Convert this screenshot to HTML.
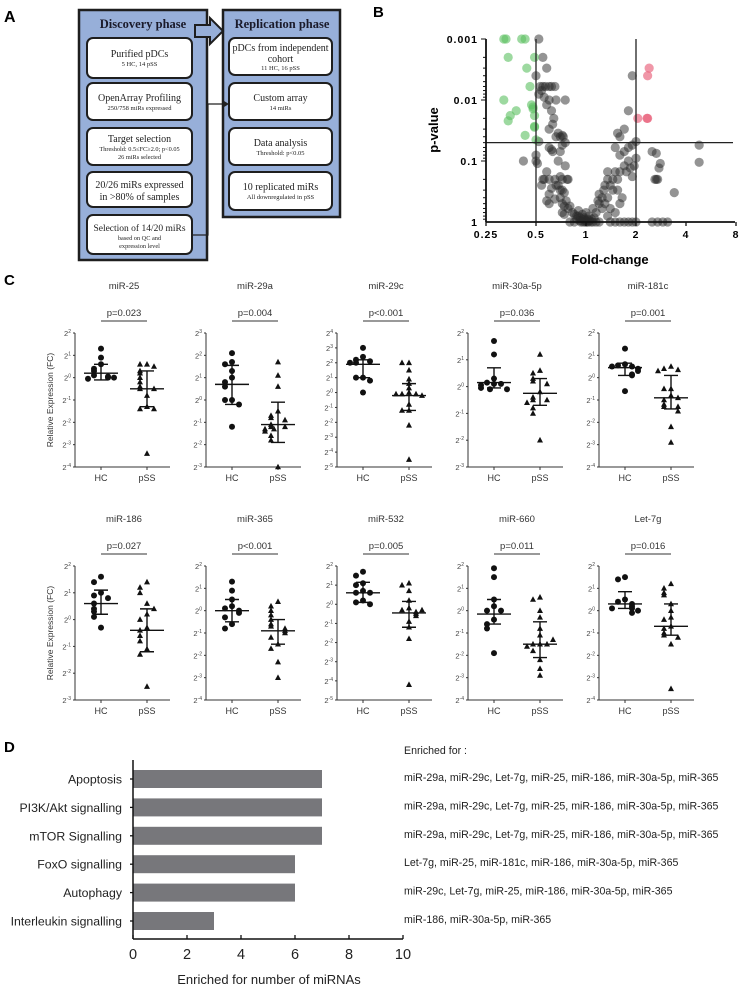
<!DOCTYPE html>
<html><head><meta charset="utf-8"><style>
html,body{margin:0;padding:0;background:#fff;}
svg{display:block;font-family:"Liberation Sans",sans-serif;}
.ser{font-family:"Liberation Serif",serif;}
</style></head><body>
<svg id="fig" width="740" height="990" viewBox="0 0 740 990" xmlns="http://www.w3.org/2000/svg">
<g>
<text x="4" y="22" font-size="16" font-weight="bold">A</text>
<rect x="79" y="10" width="128" height="250" fill="#97afd9" stroke="#1e1e1e" stroke-width="2.5"/>
<rect x="223" y="10" width="117" height="207" fill="#97afd9" stroke="#1e1e1e" stroke-width="2.5"/>
<text class="ser" x="143" y="28" font-size="12.5" font-weight="bold" text-anchor="middle" fill="#1a1a2a">Discovery phase</text>
<text class="ser" x="282" y="28" font-size="12.5" font-weight="bold" text-anchor="middle" fill="#1a1a2a">Replication phase</text>
<polygon points="195,25 210,25 210,18 223,31 210,44 210,37 195,37" fill="#97afd9" stroke="#1e1e1e" stroke-width="2"/>
<g class="ser" fill="#222" text-anchor="middle">
<rect x="87" y="38" width="105" height="40" rx="6" fill="#fff" stroke="#1e1e1e" stroke-width="2"/>
<text x="139.5" y="57" font-size="10">Purified pDCs</text>
<text x="139.5" y="66" font-size="6.5">5 HC, 14 pSS</text>
<rect x="87" y="83" width="105" height="37" rx="6" fill="#fff" stroke="#1e1e1e" stroke-width="2"/>
<text x="139.5" y="101" font-size="10">OpenArray Profiling</text>
<text x="139.5" y="110" font-size="6.5">250/758 miRs expressed</text>
<rect x="87" y="128" width="105" height="37" rx="6" fill="#fff" stroke="#1e1e1e" stroke-width="2"/>
<text x="139.5" y="142" font-size="10">Target selection</text>
<text x="139.5" y="151" font-size="6.3">Threshold: 0.5≤FC≥2.0; p&lt;0.05</text>
<text x="139.5" y="159" font-size="6.3">26 miRs selected</text>
<rect x="87" y="172" width="105" height="35" rx="6" fill="#fff" stroke="#1e1e1e" stroke-width="2"/>
<text x="139.5" y="188" font-size="10">20/26 miRs expressed</text>
<text x="139.5" y="200" font-size="10">in &gt;80% of samples</text>
<rect x="87" y="215" width="105" height="39" rx="6" fill="#fff" stroke="#1e1e1e" stroke-width="2"/>
<text x="139.5" y="231" font-size="9.5">Selection of 14/20 miRs</text>
<text x="139.5" y="240" font-size="6.3">based on QC and</text>
<text x="139.5" y="248" font-size="6.3">expression level</text>
</g>
<g class="ser" fill="#222" text-anchor="middle">
<rect x="229" y="38" width="103" height="37" rx="6" fill="#fff" stroke="#1e1e1e" stroke-width="2"/>
<text x="280.5" y="51" font-size="10">pDCs from independent</text>
<text x="280.5" y="62" font-size="10">cohort</text>
<text x="280.5" y="70" font-size="6.5">11 HC, 16 pSS</text>
<rect x="229" y="83" width="103" height="37" rx="6" fill="#fff" stroke="#1e1e1e" stroke-width="2"/>
<text x="280.5" y="101" font-size="10">Custom array</text>
<text x="280.5" y="110" font-size="6.5">14 miRs</text>
<rect x="229" y="128" width="103" height="37" rx="6" fill="#fff" stroke="#1e1e1e" stroke-width="2"/>
<text x="280.5" y="146" font-size="10">Data analysis</text>
<text x="280.5" y="155" font-size="6.5">Threshold: p&lt;0.05</text>
<rect x="229" y="172" width="103" height="38" rx="6" fill="#fff" stroke="#1e1e1e" stroke-width="2"/>
<text x="280.5" y="190" font-size="10">10 replicated miRs</text>
<text x="280.5" y="199" font-size="6.5">All downregulated in pSS</text>
</g>
<polyline points="192,235 208,235 208,104 226,104" fill="none" stroke="#222" stroke-width="1.2"/>
<polygon points="229,104 224,101 224,107" fill="#222"/>
</g>
<text x="373" y="17" font-size="15" font-weight="bold">B</text>
<text x="4" y="285" font-size="15" font-weight="bold">C</text>
<text x="4" y="752" font-size="15" font-weight="bold">D</text>
<g id="volcano"></g>
<g id="scatters"></g>
<g id="bars"></g>
</svg>
<script>
// ---------- Panel B data ----------
const greenFC = [0.32,0.33,0.41,0.43,0.34,0.49,0.44,0.46,0.32,0.38,0.35,0.34,0.47,0.48,0.49,0.49,0.49,0.43,0.5,0.48];
const greenP  = [0.001,0.001,0.001,0.001,0.002,0.002,0.003,0.006,0.01,0.015,0.018,0.022,0.012,0.014,0.018,0.027,0.028,0.038,0.045,0.013];
const redFC = [2.4,2.35,2.05,2.35,2.33];
const redP  = [0.003,0.004,0.02,0.02,0.02];
const greyFC = [0.52,0.55,0.58,0.5,0.53,0.55,0.57,0.6,0.62,0.65,0.54,0.52,0.56,0.6,0.66,0.75,0.58,0.62,0.64,0.63,0.6,0.68,0.7,0.72,0.73,0.66,0.52,0.6,0.62,0.63,0.7,0.72,0.75,0.5,0.5,0.51,0.42,0.68,0.75,0.55,0.58,0.6,0.65,0.7,0.72,0.77,0.54,0.56,0.62,0.68,0.7,0.72,0.74,0.78,0.66,0.6,0.58,0.6,0.65,0.7,0.72,0.74,0.76,0.78,0.8,0.72,0.74,0.83,0.85,0.88,0.9,0.92,0.95,1.0,1.02,1.05,0.97,0.93,0.96,0.99,1.01,1.03,1.07,1.1,1.15,1.2,0.85,0.8,1.12,1.1,1.15,1.2,1.25,1.18,1.3,1.35,1.28,1.3,1.35,1.4,1.45,1.5,1.55,1.6,1.45,1.55,1.65,1.6,1.4,1.5,1.35,1.4,1.5,1.6,1.7,1.8,1.9,2.0,2.5,2.7,2.9,3.1,1.7,1.75,1.8,1.85,1.9,1.95,2.0,1.6,1.5,1.7,1.8,1.9,1.55,1.6,1.7,1.8,1.9,2.0,2.5,2.65,2.7,2.75,2.65,2.6,2.8,3.4,4.8,4.8,1.35,1.2,1.25,1.0,0.9,0.95,0.88,0.92,1.08,1.04,0.98];
const greyP  = [0.001,0.002,0.003,0.004,0.006,0.006,0.006,0.006,0.006,0.006,0.007,0.008,0.009,0.01,0.01,0.01,0.012,0.015,0.02,0.025,0.03,0.035,0.04,0.038,0.04,0.04,0.048,0.06,0.065,0.07,0.07,0.055,0.05,0.08,0.1,0.11,0.1,0.1,0.12,0.2,0.15,0.2,0.2,0.18,0.2,0.2,0.25,0.2,0.28,0.25,0.3,0.3,0.33,0.2,0.25,0.35,0.45,0.5,0.42,0.4,0.5,0.55,0.45,0.6,0.55,0.7,0.75,0.7,0.75,0.8,0.8,0.85,0.9,0.95,0.9,0.95,0.85,1,1,1,1,1,1,1,1,1,1,1,0.85,0.6,0.7,0.5,0.6,0.45,0.5,0.4,0.3,0.25,0.2,0.25,0.2,0.15,0.2,0.15,0.3,0.3,0.4,0.5,0.6,0.7,0.8,1,1,1,1,1,1,1,1,1,1,1,0.12,0.15,0.1,0.13,0.18,0.12,0.09,0.08,0.06,0.07,0.06,0.055,0.035,0.04,0.03,0.015,0.004,0.048,0.07,0.075,0.2,0.13,0.2,0.2,0.11,0.33,0.055,0.105,0.15,0.35,0.4,0.7,0.65,0.75,0.9,0.95,0.9,0.8,0.92];
const volXTicks = [0.25,0.5,1,2,4,8];
const volXLabels = ["0.25","0.5","1","2","4","8"];
const volYTicks = [0.001,0.01,0.1,1];
const volYLabels = ["0.001","0.01","0.1","1"];

// ---------- Panel C data (log2 relative expression) ----------
const cTitles = ["miR-25","miR-29a","miR-29c","miR-30a-5p","miR-181c","miR-186","miR-365","miR-532","miR-660","Let-7g"];
const cPvals = ["p=0.023","p=0.004","p<0.001","p=0.036","p=0.001","p=0.027","p<0.001","p=0.005","p=0.011","p=0.016"];
const cYMax = [2,3,4,2,2,2,2,2,2,2];
const cYMin = [-4,-3,-5,-3,-4,-3,-4,-5,-4,-4];
const hcVals = [
 [1.3,0.9,0.6,0.4,0.3,0.1,0.05,0,-0.05,0.0],
 [2.1,1.7,1.6,1.3,1.0,0.8,0.6,0.0,0.0,-0.2,-1.2],
 [3.0,2.4,2.2,2.0,2.1,2.0,1.0,1.0,0.8,0.0],
 [1.7,1.2,0.3,0.15,0.1,0.05,-0.05,-0.1,-0.1,0.1],
 [1.3,0.6,0.55,0.5,0.5,0.4,0.3,0.15,0.1,-0.6],
 [1.6,1.4,1.0,0.9,0.8,0.6,0.4,0.3,0.1,-0.3],
 [1.3,0.9,0.5,0.2,0.1,0.0,-0.1,-0.3,-0.6,-0.8],
 [1.7,1.5,1.1,1.0,0.7,0.6,0.6,0.2,0.1,0.0],
 [1.9,1.5,0.5,0.2,0.0,0.0,-0.4,-0.6,-0.8,-1.9],
 [1.5,1.4,0.5,0.4,0.3,0.2,0.1,0.1,-0.1,0.0]];
const pssVals = [
 [0.6,0.6,0.5,0.3,0.2,0,-0.2,-0.4,-0.5,-0.5,-0.8,-1.3,-1.4,-1.4,-3.4],
 [1.7,1.1,0.6,-0.5,-0.7,-0.8,-0.9,-1.1,-1.2,-1.2,-1.3,-1.4,-1.3,-1.6,-1.8,-3.0],
 [2.0,2.0,1.5,0.9,0.6,0.3,0.0,-0.1,-0.1,-0.1,-0.2,-0.8,-1.2,-1.2,-2.2,-4.5],
 [1.2,0.6,0.5,0.3,0.2,0.1,-0.2,-0.4,-0.5,-0.5,-0.6,-0.8,-1.0,-2.0],
 [0.5,0.4,0.35,0.3,-0.5,-0.5,-0.8,-1.0,-1.2,-1.3,-1.3,-1.5,-2.2,-2.9,-0.9],
 [1.4,1.2,1.0,0.6,0.2,0.0,-0.3,-0.4,-0.6,-0.8,-1.1,-1.3,-2.5,0.4],
 [0.4,0.2,0.0,-0.2,-0.4,-0.6,-0.7,-0.8,-0.9,-1.0,-1.2,-1.5,-1.7,-2.3,-3.0],
 [1.1,1.0,0.7,0.2,-0.2,-0.3,-0.4,-0.5,-0.6,-0.9,-1.2,-1.8,-4.2,-0.3],
 [0.6,0.5,0.0,-0.3,-0.8,-1.1,-1.5,-1.5,-1.5,-1.6,-1.8,-2.2,-2.6,-2.9,-1.3],
 [1.2,1.0,0.8,0.7,0.3,0.0,-0.3,-0.4,-0.7,-0.8,-1.0,-1.1,-1.2,-1.5,-3.5]];
const hcMid = [0.2,0.7,1.9,0.15,0.45,0.6,0.0,0.6,-0.15,0.3];
const hcHi  = [0.6,1.55,2.2,0.7,0.65,1.1,0.5,1.15,0.5,0.85];
const hcLo  = [-0.1,-0.2,1.0,-0.05,0.1,0.2,-0.5,0.1,-0.6,0.1];
const pssMid = [-0.5,-1.1,-0.2,-0.25,-0.9,-0.4,-0.9,-0.45,-1.5,-0.7];
const pssHi  = [0.3,-0.1,0.6,0.3,0.1,0.4,-0.4,0.15,-0.5,0.3];
const pssLo  = [-1.3,-1.9,-1.2,-0.7,-1.4,-1.2,-1.5,-1.2,-2.1,-1.1];

// ---------- Panel D data ----------
const dCats = ["Apoptosis","PI3K/Akt signalling","mTOR Signalling","FoxO signalling","Autophagy","Interleukin signalling"];
const dVals = [7,7,7,6,6,3];
const dMirs = ["miR-29a, miR-29c, Let-7g, miR-25, miR-186, miR-30a-5p, miR-365","miR-29a, miR-29c, Let-7g, miR-25, miR-186, miR-30a-5p, miR-365","miR-29a, miR-29c, Let-7g, miR-25, miR-186, miR-30a-5p, miR-365","Let-7g, miR-25, miR-181c, miR-186, miR-30a-5p, miR-365","miR-29c, Let-7g, miR-25, miR-186, miR-30a-5p, miR-365","miR-186, miR-30a-5p, miR-365"];
const dTicks = [0,2,4,6,8,10];

const NS="http://www.w3.org/2000/svg";
function mk(tag, attrs, parent){const e=document.createElementNS(NS,tag);for(const k in attrs)e.setAttribute(k,attrs[k]);parent.appendChild(e);return e;}

// ===== Volcano =====
(function(){
 const g=document.getElementById('volcano');
 const x=fc=>486+50*Math.log2(fc/0.25);
 const y=p=>39+61*(Math.log10(p)+3);
 let el;
 function dots(fcs,ps,col,op,name){
  for(let i=0;i<fcs.length;i++){
   el=mk('circle',{cx:x(fcs[i]),cy:y(ps[i]),r:4.6,fill:col,'fill-opacity':op},g);
   
   
  }
 }
 dots(greyFC,greyP,'#2a2a2a',0.5,'volcano-point');
 dots(greenFC,greenP,'#5cbf60',0.6,'volcano-point-down');
 dots(redFC,redP,'#e8607a',0.65,'volcano-point-up');
 el=mk('line',{x1:x(0.5),x2:x(0.5),y1:y(0.001),y2:y(1),stroke:'#222','stroke-width':1.3},g);
 
 
 el=mk('line',{x1:x(2),x2:x(2),y1:y(0.001),y2:y(1),stroke:'#222','stroke-width':1.3},g);
 
 
 el=mk('line',{x1:486,x2:733,y1:y(0.05),y2:y(0.05),stroke:'#222','stroke-width':1.3},g);
 
 
 el=mk('line',{x1:486,x2:735,y1:y(1),y2:y(1),stroke:'#111','stroke-width':1.8},g);
 
 
 el=mk('line',{x1:486,x2:486,y1:y(0.001),y2:y(1),stroke:'#111','stroke-width':1.8},g);
 
 
 for(let d=-3;d<0;d++){for(let m=1;m<10;m++){
  el=mk('line',{x1:m==1?481:483,x2:486,y1:y(m*Math.pow(10,d)),y2:y(m*Math.pow(10,d)),stroke:'#111','stroke-width':1},g);
  
  
 }}
 for(let i=0;i<volYTicks.length;i++){
  el=mk('text',{x:478,y:y(volYTicks[i])+4,'font-size':10.5,'font-weight':'bold','text-anchor':'end','letter-spacing':'1'},g);
  el.textContent=volYLabels[i];
  
  
 }
 for(let i=0;i<volXTicks.length;i++){
  el=mk('line',{x1:x(volXTicks[i]),x2:x(volXTicks[i]),y1:y(1),y2:y(1)+4,stroke:'#111','stroke-width':1.3},g);
  
  
  el=mk('text',{x:x(volXTicks[i]),y:y(1)+16,'font-size':10.5,'font-weight':'bold','text-anchor':'middle','letter-spacing':'1'},g);
  el.textContent=volXLabels[i];
  
  
 }
 el=mk('text',{x:438,y:130,'font-size':13,'font-weight':'bold','text-anchor':'middle',transform:'rotate(-90 438 130)'},g);
 el.textContent='p-value';
 
 
 el=mk('text',{x:610,y:264,'font-size':13,'font-weight':'bold','text-anchor':'middle'},g);
 el.textContent='Fold-change';
 
 
})();

// ===== Scatter plots =====
(function(){
 const g=document.getElementById('scatters');
 let el;
 for(let i=0;i<10;i++){
  const row=i<5?0:1, col=i%5;
  const ax=75+131*col, top=row?566:333, bot=row?700:467;
  const sc=(bot-top)/(cYMax[i]-cYMin[i]);
  const y=v=>top+(cYMax[i]-v)*sc;
  const hx=ax+26, px=ax+72;
  el=mk('text',{x:ax+49,y:top-44,'font-size':9.5,'text-anchor':'middle',fill:'#333'},g);
  el.textContent=cTitles[i];
  
  
  el=mk('text',{x:ax+49,y:top-17,'font-size':9.5,'text-anchor':'middle',fill:'#333'},g);
  el.textContent=cPvals[i];
  
  
  el=mk('line',{x1:hx,x2:px,y1:top-12,y2:top-12,stroke:'#333','stroke-width':1},g);
  
  
  el=mk('line',{x1:ax,x2:ax,y1:top,y2:bot,stroke:'#333','stroke-width':1},g);
  
  
  el=mk('line',{x1:ax,x2:ax+95,y1:bot,y2:bot,stroke:'#333','stroke-width':1},g);
  
  
  for(let t=cYMin[i];t<=cYMax[i];t++){
   el=mk('line',{x1:ax-2,x2:ax,y1:y(t),y2:y(t),stroke:'#333','stroke-width':1},g);
   
   
   el=mk('text',{x:ax-4,y:y(t)+3,'font-size':7.5,'text-anchor':'end',fill:'#444'},g);
   
   
   const b=mk('tspan',{},el); b.textContent='2';
   const s=mk('tspan',{dy:-3,'font-size':5},el); s.textContent=String(t);
  }
  [[hx,'HC'],[px,'pSS']].forEach(([xx,lab])=>{
   el=mk('line',{x1:xx,x2:xx,y1:bot,y2:bot+3,stroke:'#333','stroke-width':1},g);
   
   
   el=mk('text',{x:xx,y:bot+14,'font-size':9,'text-anchor':'middle',fill:'#333'},g);
   el.textContent=lab;
   
   
  });
  const offs=[0,-7,7,-13,13,-4,4];
  function pts(vals,cx,tri){
   const placed=[];
   vals.forEach(v=>{
    let k=0; placed.forEach(p=>{if(Math.abs(p-v)<0.28)k++;}); placed.push(v);
    const xx=cx+offs[k%offs.length], yy=y(v);
    if(tri){el=mk('polygon',{points:`${xx},${yy-3.3} ${xx-3},${yy+2.3} ${xx+3},${yy+2.3}`,fill:'#111'},g);}
    else{el=mk('circle',{cx:xx,cy:yy,r:3,fill:'#111'},g);}
    
    
   });
  }
  pts(hcVals[i],hx,false);
  pts(pssVals[i],px,true);
  function bar(cx,mid,hi,lo,name){
   el=mk('path',{d:`M${cx-17},${y(mid)}H${cx+17}M${cx},${y(hi)}V${y(lo)}M${cx-7},${y(hi)}H${cx+7}M${cx-7},${y(lo)}H${cx+7}`,stroke:'#111','stroke-width':1.4,fill:'none'},g);
   
   
  }
  bar(hx,hcMid[i],hcHi[i],hcLo[i],'hc-summary-bar');
  bar(px,pssMid[i],pssHi[i],pssLo[i],'pss-summary-bar');
 }
 [400,633].forEach(cy=>{
  el=mk('text',{x:53,y:cy,'font-size':8.5,'text-anchor':'middle',fill:'#333',transform:`rotate(-90 53 ${cy})`},g);
  el.textContent='Relative Expression (FC)';
  
  
 });
})();

// ===== Bar chart =====
(function(){
 const g=document.getElementById('bars');
 const x0=133, u=27, y0=779, step=28.4, bh=18, axY=939;
 const x=v=>x0+v*u;
 let el;
 for(let i=0;i<dCats.length;i++){
  const cy=y0+i*step;
  el=mk('rect',{x:x0,y:cy-bh/2,width:x(dVals[i])-x0,height:bh,fill:'#77777b'},g);
  
  
  el=mk('line',{x1:x0-3,x2:x0,y1:cy,y2:cy,stroke:'#111','stroke-width':1.3},g);
  
  
  el=mk('text',{x:122,y:cy+4.5,'font-size':12.3,'text-anchor':'end',fill:'#222'},g);
  el.textContent=dCats[i];
  
  
  el=mk('text',{x:404,y:cy+2,'font-size':10.6,fill:'#222'},g);
  el.textContent=dMirs[i];
  
  
 }
 el=mk('text',{x:404,y:754,'font-size':10.6,fill:'#222'},g);
 el.textContent='Enriched for :';
 
 
 el=mk('line',{x1:x0,x2:x0,y1:760,y2:axY,stroke:'#111','stroke-width':1.5},g);
 
 
 el=mk('line',{x1:x0,x2:x(10),y1:axY,y2:axY,stroke:'#111','stroke-width':1.5},g);
 
 
 dTicks.forEach(t=>{
  el=mk('line',{x1:x(t),x2:x(t),y1:axY,y2:axY-4,stroke:'#111','stroke-width':1.3},g);
  
  
  el=mk('text',{x:x(t),y:axY+20,'font-size':14.5,'text-anchor':'middle',fill:'#222'},g);
  el.textContent=String(t);
  
  
 });
 el=mk('text',{x:269,y:984,'font-size':13,'text-anchor':'middle',fill:'#222'},g);
 el.textContent='Enriched for number of  miRNAs';
 
 
})();
</script>
</body></html>
